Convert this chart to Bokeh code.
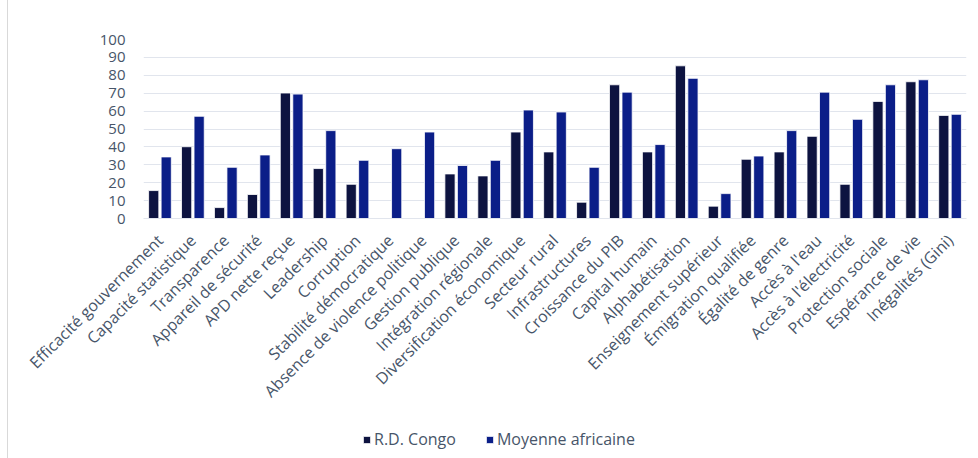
from bokeh.plotting import figure
from bokeh.models import (FactorRange, ColumnDataSource, Legend, LegendItem,
                          SingleIntervalTicker, Range1d)
from bokeh.transform import dodge
from bokeh.embed import file_html
from bokeh.resources import INLINE
import math

# Indicator categories
categories = [
    "Efficacité gouvernement", "Capacité statistique", "Transparence",
    "Appareil de sécurité", "APD nette reçue", "Leadership", "Corruption",
    "Stabilité démocratique", "Absence de violence politique",
    "Gestion publique", "Intégration régionale", "Diversification économique",
    "Secteur rural", "Infrastructures", "Croissance du PIB", "Capital humain",
    "Alphabétisation", "Enseignement supérieur", "Émigration qualifiée",
    "Égalité de genre", "Accès à l'eau", "Accès à l'électricité",
    "Protection sociale", "Espérance de vie", "Inégalités (Gini)",
]

# Scores (0-100)
rdc_values = [15.6, 40.1, 6.1, 13.4, 70.1, 27.9, 19.1, 0.0, 0.0, 24.9,
              23.8, 48.3, 37.2, 9.1, 74.7, 37.2, 85.3, 6.9, 33.1, 37.2,
              45.9, 19.1, 65.4, 76.4, 57.6]
africa_values = [34.4, 57.1, 28.6, 35.5, 69.5, 49.1, 32.5, 39.0, 48.3, 29.6,
                 32.5, 60.6, 59.5, 28.6, 70.6, 41.3, 78.3, 13.9, 34.9, 49.1,
                 70.6, 55.4, 74.7, 77.5, 58.2]

series_names = ["R.D. Congo", "Moyenne africaine"]
y_ticks_interval = 10

DARK = "#0D1340"
BLUE = "#0B1E88"
TEXT = "#475569"
GRID = "#E1E5ED"
FONT = "Open Sans"

source = ColumnDataSource(dict(cat=categories, rdc=rdc_values, afr=africa_values))

# ---- main chart -------------------------------------------------------------
p = figure(
    x_range=FactorRange(*categories), y_range=(0, 100),
    width=978, height=458,
    min_border_left=143, min_border_top=39, min_border_right=12,
    min_border_bottom=240,
    toolbar_location=None, output_backend="svg",
)
p.outline_line_color = None
p.background_fill_color = "white"
p.border_fill_color = None
# Thin grey edge on the left of the chart area
p.styles = {"background": "linear-gradient(to right, white 7px, #D9D9D9 7px, "
                          "#D9D9D9 8px, white 8px)"}

bar_style = dict(width=0.31, line_color="white", line_width=0.8)
p.vbar(x=dodge("cat", -0.19, range=p.x_range), top="rdc", source=source,
       fill_color=DARK, **bar_style)
p.vbar(x=dodge("cat", 0.19, range=p.x_range), top="afr", source=source,
       fill_color=BLUE, **bar_style)

p.xgrid.grid_line_color = None
p.ygrid.grid_line_color = GRID
p.ygrid.grid_line_width = 1.2
p.yaxis.ticker = SingleIntervalTicker(interval=y_ticks_interval)
p.yaxis.axis_line_color = None
p.yaxis.major_tick_line_color = None
p.yaxis.minor_tick_line_color = None
p.yaxis.major_label_text_font = FONT
p.yaxis.major_label_text_font_size = "15px"
p.yaxis.major_label_text_color = TEXT
p.yaxis.major_label_standoff = 12

p.xaxis.axis_line_color = GRID
p.xaxis.axis_line_width = 1.2
p.xaxis.major_tick_line_color = None
p.xaxis.minor_tick_line_color = None
p.xaxis.major_label_orientation = math.pi / 4
p.xaxis.major_label_text_font = FONT
p.xaxis.major_label_text_font_size = "16px"
p.xaxis.major_label_text_color = TEXT
p.xaxis.major_label_standoff = 13

# ---- legend strip laid over the bottom of the chart --------------------------
# Its bars sit far outside its own y range, so only the legend shows.
q = figure(
    x_range=FactorRange(*categories), y_range=Range1d(1000, 1001),
    width=978, height=40, min_border=0,
    toolbar_location=None, output_backend="svg",
)
q.axis.visible = False
q.grid.visible = False
q.outline_line_color = None
q.background_fill_color = None
q.border_fill_color = None
q.styles = {"position": "absolute", "top": "420px", "left": "0px"}

l1 = q.vbar(x=dodge("cat", -0.19, range=q.x_range), top="rdc", source=source,
            fill_color=DARK, **bar_style)
l2 = q.vbar(x=dodge("cat", 0.19, range=q.x_range), top="afr", source=source,
            fill_color=BLUE, **bar_style)

legend = Legend(
    items=[LegendItem(label=series_names[0], renderers=[l1]),
           LegendItem(label=series_names[1], renderers=[l2])],
    orientation="horizontal", location=(362, 10),
    label_text_font=FONT, label_text_font_size="16px", label_text_color=TEXT,
    glyph_width=9, glyph_height=9, spacing=29, label_standoff=3,
    border_line_color=None, background_fill_alpha=0,
    padding=0, margin=0,
)
q.add_layout(legend, "center")

open("out.html", "w").write(file_html([p, q], INLINE))
